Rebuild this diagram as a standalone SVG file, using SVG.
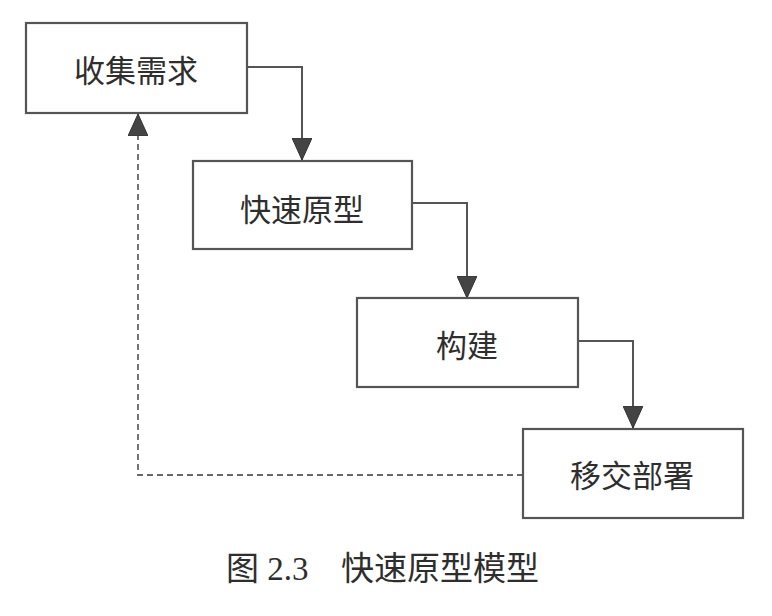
<svg xmlns="http://www.w3.org/2000/svg" width="772" height="616" viewBox="0 0 772 616">
<style>
.box{fill:#fff;stroke:#555;stroke-width:2.2}
.lbl{font-family:"Noto Sans CJK SC","Noto Sans",sans-serif;font-size:31px;fill:#2e2e2e;text-anchor:middle;dominant-baseline:central}
.cap{font-family:"Liberation Serif","Noto Sans CJK SC",serif;font-size:33px;fill:#2e2e2e}
.cn{font-family:"Noto Sans CJK SC","Noto Sans",sans-serif}
.con{fill:none;stroke:#555;stroke-width:2}
.dash{fill:none;stroke:#666;stroke-width:1.8;stroke-dasharray:6,4}
</style>
<defs>
<marker id="big" viewBox="0 0 22 20" refX="22" refY="10" markerWidth="22" markerHeight="20" markerUnits="userSpaceOnUse" orient="auto">
<path d="M0,0 L22,10 L0,20 Z" fill="#444" stroke="#333" stroke-width="1"/>
</marker>
</defs>
<rect width="772" height="616" fill="#fff"/>
<g id="connectors">
<path class="con" d="M247,67 H302 V160" marker-end="url(#big)"/>
<path class="con" d="M412,203 H467 V298" marker-end="url(#big)"/>
<path class="con" d="M578,341 H633 V428" marker-end="url(#big)"/>
<path class="dash" d="M523,475 H138 V114" marker-end="url(#big)"/>
</g>
<g id="n1"><rect class="box" x="26" y="23" width="221" height="90"/><text class="lbl" x="136" y="68">收集需求</text></g>
<g id="n2"><rect class="box" x="193" y="161" width="219" height="88"/><text class="lbl" x="302" y="207">快速原型</text></g>
<g id="n3"><rect class="box" x="357" y="298" width="221" height="89"/><text class="lbl" x="467" y="343">构建</text></g>
<g id="n4"><rect class="box" x="523" y="429" width="220" height="89"/><text class="lbl" x="632" y="473">移交部署</text></g>
<g id="caption"><text class="cap" x="226" y="580"><tspan class="cn">图</tspan> 2.3<tspan x="341" class="cn">快速原型模型</tspan></text></g>
</svg>
